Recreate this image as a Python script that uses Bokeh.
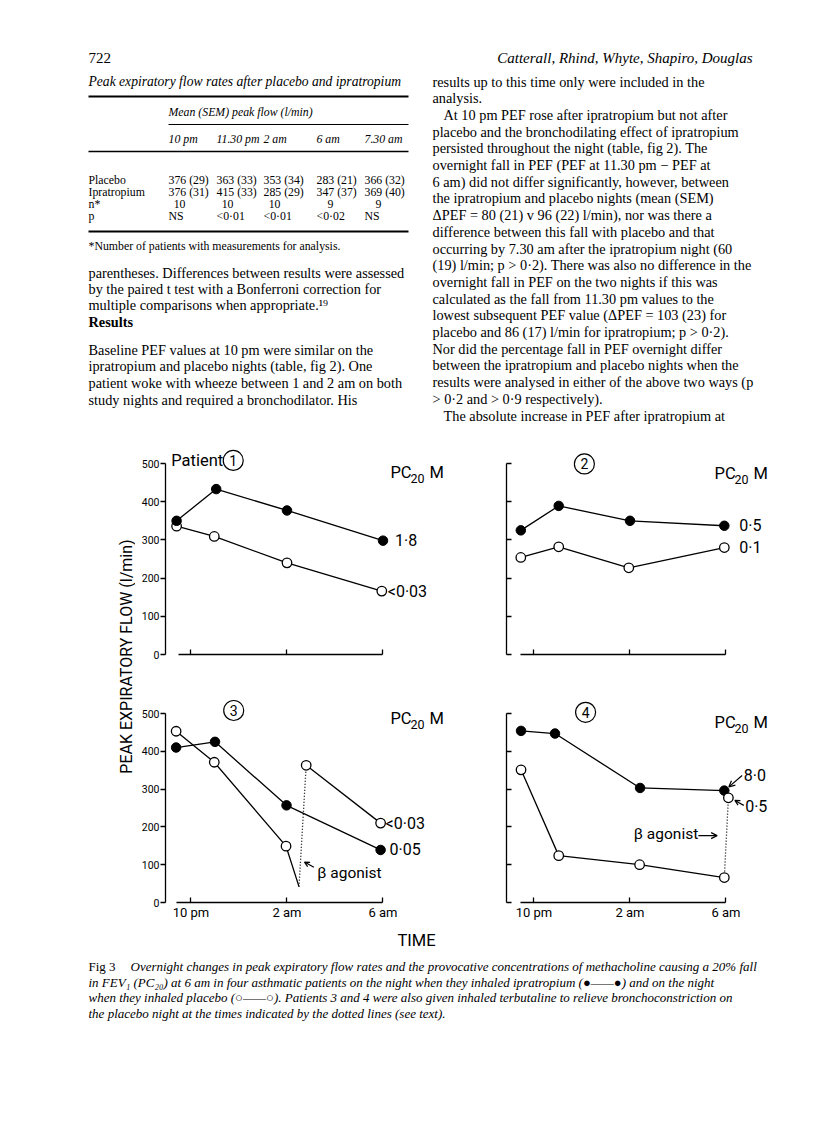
from bokeh.plotting import figure
from bokeh.layouts import column, row
from bokeh.models import Range1d, FixedTicker, Arrow, OpenHead
from bokeh.core.properties import value
from bokeh.embed import file_html
from bokeh.resources import INLINE

SANS = "Roboto"
SERIF = "Liberation Serif"

# ---------------- data (time in hours after 10 pm, PEF in l/min) ----------------
tick_hours = [0, 4, 8]
tick_labels = ["10 pm", "2 am", "6 am"]
pef_ticks = [0, 100, 200, 300, 400, 500]

p1_ipra_t = [-0.6, 1.05, 4.0, 8.0]
p1_ipra_v = [350, 433, 377, 298]
p1_plac_t = [-0.6, 0.97, 4.0, 7.95]
p1_plac_v = [336, 309, 240, 166]
p1_pc20 = ["1·8", "<0·03"]

p2_ipra_t = [-0.55, 1.03, 4.0, 7.93]
p2_ipra_v = [325, 389, 350, 337]
p2_plac_t = [-0.55, 1.03, 3.95, 7.93]
p2_plac_v = [254, 282, 227, 280]
p2_pc20 = ["0·5", "0·1"]

p3_ipra_t = [-0.62, 1.0, 3.98, 7.9]
p3_ipra_v = [410, 425, 257, 139]
p3_plac_t = [-0.62, 0.97, 3.96, 4.5]
p3_plac_v = [453, 371, 149, 42]
p3_post_t = [4.8, 7.9]
p3_post_v = [363, 210]
p3_pc20 = ["0·05", "<0·03"]

p4_ipra_t = [-0.54, 0.875, 4.42, 7.93]
p4_ipra_v = [454, 447, 303, 296]
p4_plac_t = [-0.54, 1.03, 4.4, 7.93]
p4_plac_v = [351, 124, 100, 66]
p4_post_t = [8.1]
p4_post_v = [277]
p4_pc20 = ["8·0", "0·5"]

# ---------------- page text ----------------
table_cols = ["10 pm", "11.30 pm", "2 am", "6 am", "7.30 am"]
table_rows = ["Placebo", "Ipratropium", "n*", "p"]
table_placebo = ["376 (29)", "363 (33)", "353 (34)", "283 (21)", "366 (32)"]
table_ipra = ["376 (31)", "415 (33)", "285 (29)", "347 (37)", "369 (40)"]
table_n = ["10", "10", "10", "9", "9"]
table_p = ["NS", "<0·01", "<0·01", "<0·02", "NS"]

left_para = [
    "parentheses. Differences between results were assessed",
    "by the paired t test with a Bonferroni correction for",
    "multiple comparisons when appropriate.¹⁹",
]
left_para2 = [
    "Baseline PEF values at 10 pm were similar on the",
    "ipratropium and placebo nights (table, fig 2). One",
    "patient woke with wheeze between 1 and 2 am on both",
    "study nights and required a bronchodilator. His",
]
right_col = [
    "results up to this time only were included in the",
    "analysis.",
    "At 10 pm PEF rose after ipratropium but not after",
    "placebo and the bronchodilating effect of ipratropium",
    "persisted throughout the night (table, fig 2). The",
    "overnight fall in PEF (PEF at 11.30 pm − PEF at",
    "6 am) did not differ significantly, however, between",
    "the ipratropium and placebo nights (mean (SEM)",
    "ΔPEF = 80 (21) v 96 (22) l/min), nor was there a",
    "difference between this fall with placebo and that",
    "occurring by 7.30 am after the ipratropium night (60",
    "(19) l/min; p > 0·2). There was also no difference in the",
    "overnight fall in PEF on the two nights if this was",
    "calculated as the fall from 11.30 pm values to the",
    "lowest subsequent PEF value (ΔPEF = 103 (23) for",
    "placebo and 86 (17) l/min for ipratropium; p > 0·2).",
    "Nor did the percentage fall in PEF overnight differ",
    "between the ipratropium and placebo nights when the",
    "results were analysed in either of the above two ways (p",
    "> 0·2 and > 0·9 respectively).",
    "The absolute increase in PEF after ipratropium at",
]
right_indent = [2, 20]
caption = [
    "Overnight changes in peak expiratory flow rates and the provocative concentrations of methacholine causing a 20% fall",
    "in FEV₁ (PC₂₀) at 6 am in four asthmatic patients on the night when they inhaled ipratropium (●——●) and on the night",
    "when they inhaled placebo (○——○). Patients 3 and 4 were also given inhaled terbutaline to relieve bronchoconstriction on",
    "the placebo night at the times indicated by the dotted lines (see text).",
]


def canvas(w, h):
    p = figure(width=w, height=h, x_range=Range1d(0, w), y_range=Range1d(h, 0),
               output_backend="svg", toolbar_location=None,
               min_border_left=0, min_border_right=0, min_border_top=0, min_border_bottom=0)
    p.axis.visible = False
    p.grid.visible = False
    p.outline_line_color = None
    return p


def put(p, x, y, s, size="14.3px", font=SERIF, style="normal", align="left", xoff=0, angle=0):
    p.text(x=[x], y=[y], text=[s], text_font=value(font), text_font_size=size,
           text_font_style=style, text_align=align, text_baseline="middle",
           x_offset=xoff, angle=angle, text_color="black")


TF = "11.8px"  # table font

# ---------------- top page text (page pixel coordinates) ----------------
top = canvas(816, 445)
put(top, 88, 57, "722", "15px")
put(top, 752, 57, "Catterall, Rhind, Whyte, Shapiro, Douglas", "15px", style="italic", align="right")
put(top, 88, 81, "Peak expiratory flow rates after placebo and ipratropium", "13.6px", style="italic")
top.segment(x0=[88, 168, 88, 88], y0=[96, 124, 151, 231], x1=[408, 408, 408, 408], y1=[96, 124, 151, 231],
            line_color="black", line_width=[2.2, 1, 1.6, 2.2])
put(top, 168, 111, "Mean (SEM) peak flow (l/min)", TF, style="italic")
col_x = [168, 216, 263, 316, 364]
for cx, c in zip(col_x, table_cols):
    put(top, cx, 138, c, TF, style="italic")
row_y = [179, 191, 203, 215]
for ry, r in zip(row_y, table_rows):
    put(top, 88, ry, r, TF)
for cx, a, b, n, pv in zip(col_x, table_placebo, table_ipra, table_n, table_p):
    put(top, cx, row_y[0], a, TF)
    put(top, cx, row_y[1], b, TF)
    put(top, cx + 17, row_y[2], n, TF, align="right")
    put(top, cx, row_y[3], pv, TF)
put(top, 88, 245, "*Number of patients with measurements for analysis.", "11.8px")
for i, s in enumerate(left_para):
    put(top, 88, 272 + 16.2 * i, s)
put(top, 88, 321, "Results", style="bold")
for i, s in enumerate(left_para2):
    put(top, 88, 349 + 16.7 * i, s)
for i, s in enumerate(right_col):
    put(top, 432 + (11 if i in right_indent else 0), 81 + 16.7 * i, s)

# ---------------- panels ----------------
LX = (-1.0625, 11.646)   # left column x range (hours)
RX = (-1.1458, 11.4375)  # right column x range
TY = (0, 539.27)         # top row y range
BY = (0, 555.56)         # bottom row y range
TS = 191 / 500           # px per l/min (top row)
BS = 189 / 500           # px per l/min (bottom row)


def panel(w, h, bl, bt, bb, xr, yr, left_labels, bottom_labels, xlo):
    p = figure(width=w, height=h, x_range=Range1d(*xr), y_range=Range1d(*yr),
               output_backend="svg", toolbar_location=None,
               min_border_left=bl, min_border_right=0, min_border_top=bt, min_border_bottom=bb)
    p.grid.visible = False
    p.outline_line_color = None
    ax = p.xaxis[0]
    ax.ticker = FixedTicker(ticks=tick_hours)
    ax.major_label_overrides = dict(zip(tick_hours, tick_labels))
    ax.bounds = (xlo, 8)
    ax.major_tick_in = 5
    ax.major_tick_out = 0
    ax.minor_tick_line_color = None
    ax.axis_line_width = 1.3
    ax.major_tick_line_width = 1.3
    ax.major_label_text_font = SANS
    ax.major_label_text_font_size = "13px"
    ax.major_label_standoff = 2
    if bottom_labels:
        ax.major_label_text_color = "black"
    else:
        ax.major_label_text_color = None
        ax.major_label_text_alpha = 0
    ay = p.yaxis[0]
    ay.ticker = FixedTicker(ticks=pef_ticks)
    ay.bounds = (0, 500)
    ay.minor_tick_line_color = None
    ay.axis_line_width = 1.3
    ay.major_tick_line_width = 1.3
    ay.major_label_text_font = SANS
    ay.major_label_text_font_size = "10.5px"
    ay.major_label_standoff = 1
    if left_labels:
        ay.major_tick_in = 0
        ay.major_tick_out = 5
        ay.major_label_text_color = "black"
    else:
        ay.major_tick_in = 5
        ay.major_tick_out = 0
        ay.major_label_text_color = None
        ay.major_label_text_alpha = 0
    return p


def series(p, t, v, filled, marked=None):
    p.line(t, v, line_color="black", line_width=1.3)
    if marked is not None:
        t, v = t[:marked], v[:marked]
    if filled:
        p.scatter(t, v, marker="circle", size=9.5, fill_color="black", line_color="black")
    else:
        p.scatter(t, v, marker="circle", size=9.5, fill_color="white", line_color="black", line_width=1.3)


def dotted(p, t0, v0, t1, v1):
    p.line([t0, t1], [v0, v1], line_color="black", line_width=1.3, line_dash="1 2")


def badge(p, cx, cy, num, patient=False):
    p.scatter([cx], [cy], marker="circle", size=20, fill_color=None, line_color="black", line_width=1.2)
    put(p, cx, cy, num, "14px", font=SANS, align="center")
    if patient:
        put(p, cx, cy, "Patient", "16.5px", font=SANS, align="right", xoff=-10)


def pc20(p, x, y, scale):
    put(p, x, y, "PC", "16.5px", font=SANS)
    put(p, x, y - 6 / scale, "20", "12.5px", font=SANS, xoff=20)
    put(p, x, y, "M", "16.5px", font=SANS, xoff=39)


def note(p, t, v, s, xoff):
    put(p, t, v, s, "16px", font=SANS, xoff=xoff)


# Patient 1
a = panel(335, 245, 30, 3, 36, LX, TY, True, False, -0.52)
series(a, p1_plac_t, p1_plac_v, False)
series(a, p1_ipra_t, p1_ipra_v, True)
badge(a, 1.76, 508, "1", patient=True)
pc20(a, 8.31, 477, TS)
note(a, p1_ipra_t[-1], p1_ipra_v[-1], p1_pc20[0], 12)
note(a, p1_plac_t[-1], p1_plac_v[-1], p1_pc20[1], 6)

# Patient 2
b = panel(338, 245, 36, 3, 36, RX, TY, False, False, -0.56)
series(b, p2_plac_t, p2_plac_v, False)
series(b, p2_ipra_t, p2_ipra_v, True)
badge(b, 2.1, 499, "2")
pc20(b, 7.52, 473, TS)
note(b, p2_ipra_t[-1], p2_ipra_v[-1], p2_pc20[0], 15)
note(b, p2_plac_t[-1], p2_plac_v[-1], p2_pc20[1], 15)

# Patient 3
c = panel(335, 238, 30, 2, 26, LX, BY, True, True, -0.6)
dotted(c, p3_plac_t[-1], p3_plac_v[-1], p3_post_t[0], p3_post_v[0])
series(c, p3_ipra_t, p3_ipra_v, True)
series(c, p3_plac_t, p3_plac_v, False, marked=3)
series(c, p3_post_t, p3_post_v, False)
badge(c, 1.78, 508, "3")
pc20(c, 8.31, 487, BS)
note(c, p3_ipra_t[-1], p3_ipra_v[-1], p3_pc20[0], 9)
note(c, p3_post_t[-1], p3_post_v[-1], p3_pc20[1], 5)
put(c, 5.26, 78, "β agonist", "15.5px", font=SANS)
c.add_layout(Arrow(end=OpenHead(size=5, line_width=1.2), x_start=5.12, y_start=93, x_end=4.73, y_end=107,
                   line_width=1.2))

# Patient 4
d = panel(338, 238, 36, 2, 26, RX, BY, False, True, -0.56)
dotted(d, p4_plac_t[-1], p4_plac_v[-1], p4_post_t[0], p4_post_v[0])
series(d, p4_ipra_t, p4_ipra_v, True)
series(d, p4_plac_t, p4_plac_v, False)
series(d, p4_post_t, p4_post_v, False)
badge(d, 2.15, 503, "4")
pc20(d, 7.52, 477, BS)
put(d, 8.74, 336, p4_pc20[0], "16px", font=SANS)
d.add_layout(Arrow(end=OpenHead(size=6, line_width=1.2), x_start=8.67, y_start=336, x_end=8.12, y_end=306,
                   line_width=1.2))
put(d, 8.8, 254, p4_pc20[1], "16px", font=SANS)
d.add_layout(Arrow(end=OpenHead(size=5, line_width=1.2), x_start=8.74, y_start=257, x_end=8.37, y_end=270,
                   line_width=1.2))
put(d, 4.16, 182, "β agonist", "15.5px", font=SANS)
d.add_layout(Arrow(end=OpenHead(size=6, line_width=1.2), x_start=6.85, y_start=177, x_end=7.63, y_end=177,
                   line_width=1.2))

# y-axis title strip (page x 0-135, page y 445-928)
ylab = canvas(135, 483)
put(ylab, 126, 211, "PEAK EXPIRATORY FLOW (l/min)", "16px", font=SANS, align="center", angle=1.5707963)

# bottom: TIME + caption (page y 928-1121)
bot = canvas(816, 193)
put(bot, 416, 12, "TIME", "16.5px", font=SANS, align="center")
put(bot, 88, 38, "Fig 3", "13px")
put(bot, 130, 38, caption[0], "13px", style="italic")
for i, s in enumerate(caption[1:]):
    put(bot, 88, 54 + 15.3 * i, s, "13px", style="italic")

layout = column(top, row(ylab, column(row(a, b), row(c, d))), bot)
open("out.html", "w").write(file_html(layout, INLINE))
